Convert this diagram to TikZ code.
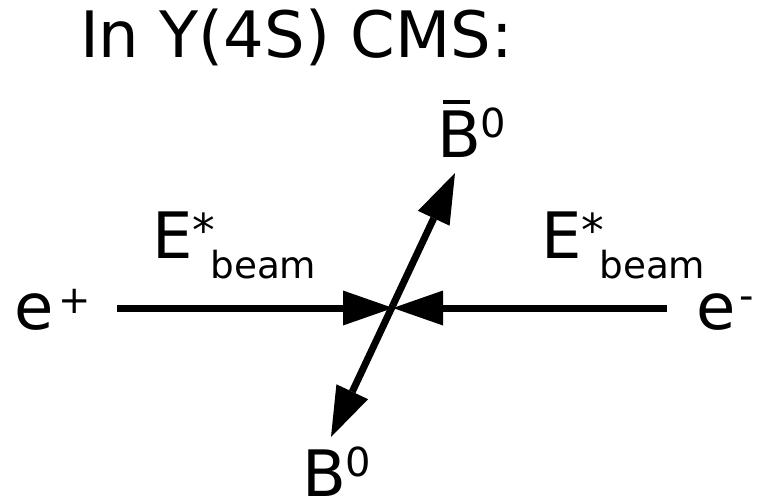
\documentclass[tikz,border=0pt]{standalone}
\usepackage{fontspec}
\setmainfont{DejaVu Sans}
\usetikzlibrary{arrows.meta}
\begin{document}
\begin{tikzpicture}[x=0.75pt,y=-0.75pt,
  lbl/.style={anchor=base west,inner sep=0pt,outer sep=0pt,font=\fontsize{48}{48}\selectfont},
  arr/.style={line width=5.25pt,-{Triangle[length=37.5pt,width=26.25pt,line width=0pt]}}]
\useasboundingbox (0,0) rectangle (769,500);
\node[lbl] (title) at (80,57) {In Y(4S) CMS:};
% labels
\node[lbl] (ep) at (14.5,329) {e\hspace{3.5pt}\raisebox{11.5pt}{\fontsize{29}{29}\selectfont +}};
\node[lbl] (em) at (696.5,329) {e\hspace{3pt}\raisebox{14.6pt}{\fontsize{30}{30}\selectfont -}};
\node[lbl] (Eleft) at (152,258) {E\raisebox{8.3pt}{\fontsize{34}{34}\selectfont *}\hspace{-3.5pt}\raisebox{-15pt}{\fontsize{28}{28}\selectfont beam}};
\node[lbl] (Eright) at (541,258) {E\raisebox{8.3pt}{\fontsize{34}{34}\selectfont *}\hspace{-3.5pt}\raisebox{-15pt}{\fontsize{28}{28}\selectfont beam}};
\node[lbl] (Bbar) at (437,157) {\rlap{\hspace{4.7pt}\rule[40pt]{20pt}{2.6pt}}B\raisebox{15pt}{\fontsize{30}{30}\selectfont 0}};
\node[lbl] (B) at (302,496) {B\raisebox{15pt}{\fontsize{30}{30}\selectfont 0}};
% connectors
\coordinate (c) at (393,308);
\coordinate (lstart) at (117,308);
\coordinate (rstart) at (667,308);
\coordinate (c2) at (393,305);
\coordinate (up) at (455,173);
\coordinate (down) at (331,437);
\draw[arr] (lstart) -- (c);
\draw[arr] (rstart) -- (c);
\draw[arr] (c2) -- (up);
\draw[arr] (c2) -- (down);
\end{tikzpicture}
\end{document}
